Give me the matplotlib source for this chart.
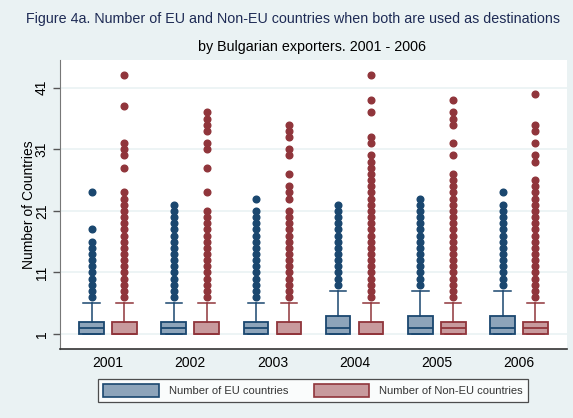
import matplotlib

matplotlib.use("Agg")
import matplotlib.pyplot as plt
from matplotlib.patches import Patch


plt.rcParams["font.family"] = ["Liberation Sans", "DejaVu Sans"]

YEARS = ["2001", "2002", "2003", "2004", "2005", "2006"]
Y_TICKS = [1, 11, 21, 31, 41]

# box summaries, one entry per year
EU_Q1 = [1, 1, 1, 1, 1, 1]
EU_MEDIAN = [2, 2, 2, 2, 2, 2]
EU_Q3 = [3, 3, 3, 4, 4, 4]
EU_WHISKER_LOW = [1, 1, 1, 1, 1, 1]
EU_WHISKER_HIGH = [6, 6, 6, 8, 8, 8]

NONEU_Q1 = [1, 1, 1, 1, 1, 1]
NONEU_MEDIAN = [1, 1, 1, 1, 2, 2]
NONEU_Q3 = [3, 3, 3, 3, 3, 3]
NONEU_WHISKER_LOW = [1, 1, 1, 1, 1, 1]
NONEU_WHISKER_HIGH = [6, 6, 6, 6, 6, 6]

# outside values (distinct country counts above the upper whisker)
EU_OUTLIERS = [
    [7, 8, 9, 10, 11, 12, 13, 14, 15, 16, 18, 24],
    [7, 8, 9, 10, 11, 12, 13, 14, 15, 16, 17, 18, 19, 20, 21, 22],
    [7, 8, 9, 10, 11, 12, 13, 14, 15, 16, 17, 18, 19, 20, 21, 23],
    [9, 10, 11, 12, 13, 14, 15, 16, 17, 18, 19, 20, 21, 22],
    [9, 10, 11, 12, 13, 14, 15, 16, 17, 18, 19, 20, 21, 22, 23],
    [9, 10, 11, 12, 13, 14, 15, 16, 17, 18, 19, 20, 21, 22, 24],
]
NONEU_OUTLIERS = [
    [7, 8, 9, 10, 11, 12, 13, 14, 15, 16, 17, 18, 19, 20, 21, 22, 23, 24,
     28, 30, 31, 32, 38, 43],
    [7, 8, 9, 10, 11, 12, 13, 14, 15, 16, 17, 18, 19, 20, 21,
     24, 28, 31, 32, 34, 35, 36, 37],
    [7, 8, 9, 10, 11, 12, 13, 14, 15, 16, 17, 18, 19, 20, 21,
     23, 24, 25, 27, 30, 31, 33, 34, 35],
    [7, 8, 9, 10, 11, 12, 13, 14, 15, 16, 17, 18, 19, 20, 21, 22, 23, 24,
     25, 26, 27, 28, 29, 30, 32, 33, 37, 39, 43],
    [7, 8, 9, 10, 11, 12, 13, 14, 15, 16, 17, 18, 19, 20, 21, 22, 23, 24,
     25, 26, 27, 30, 32, 35, 36, 37, 39],
    [7, 8, 9, 10, 11, 12, 13, 14, 15, 16, 17, 18, 19, 20, 21, 22, 23, 24,
     25, 26, 29, 30, 32, 34, 35, 40],
]

NAVY = "#1A476F"
NAVY_FILL = "#8DA4BA"
MAROON = "#90353B"
MAROON_FILL = "#C89A9D"
BACKGROUND = "#EAF2F3"


def box_stats(q1, med, q3, lo, hi, outliers):
    stats = []
    for i in range(len(q1)):
        stats.append(
            {
                "q1": q1[i],
                "med": med[i],
                "q3": q3[i],
                "whislo": lo[i],
                "whishi": hi[i],
                "fliers": outliers[i],
            }
        )
    return stats


def draw_boxes(ax, stats, positions, edge, fill):
    ax.bxp(
        stats,
        positions=positions,
        widths=0.30,
        patch_artist=True,
        showcaps=True,
        boxprops={"facecolor": fill, "edgecolor": edge, "linewidth": 1.3},
        medianprops={"color": edge, "linewidth": 1.3},
        whiskerprops={"color": edge, "linewidth": 1.1},
        capprops={"color": edge, "linewidth": 1.1},
        capwidths=0.2,
        flierprops={
            "marker": "o",
            "markerfacecolor": edge,
            "markeredgecolor": edge,
            "markersize": 4.8,
            "linestyle": "none",
        },
        zorder=3,
    )


fig = plt.figure(figsize=(5.73, 4.18), dpi=100, facecolor=BACKGROUND)
ax = fig.add_axes([60 / 573, 1 - 349 / 418, 507 / 573, 289 / 418])
ax.set_facecolor("white")

groups = list(range(len(YEARS)))
eu_pos = [g - 0.2 for g in groups]
noneu_pos = [g + 0.2 for g in groups]

draw_boxes(
    ax,
    box_stats(EU_Q1, EU_MEDIAN, EU_Q3, EU_WHISKER_LOW, EU_WHISKER_HIGH, EU_OUTLIERS),
    eu_pos, NAVY, NAVY_FILL,
)
draw_boxes(
    ax,
    box_stats(NONEU_Q1, NONEU_MEDIAN, NONEU_Q3, NONEU_WHISKER_LOW, NONEU_WHISKER_HIGH, NONEU_OUTLIERS),
    noneu_pos, MAROON, MAROON_FILL,
)

ax.set_xlim(-0.584, 5.584)
ax.set_ylim(-1.43, 45.5)
ax.set_xticks(groups)
ax.set_xticklabels(YEARS, fontsize=10)
ax.tick_params(axis="x", length=0, pad=5)

ax.set_yticks(Y_TICKS)
ax.set_yticklabels([str(t) for t in Y_TICKS], rotation=90, va="center", fontsize=10)
ax.tick_params(axis="y", length=5, width=1, color="#555555", pad=3)
ax.yaxis.grid(True, color=BACKGROUND, linewidth=1.2, zorder=0)
ax.set_axisbelow(True)
# Stata-style axis title sitting close against the tick labels
ax.set_ylabel("Number of Countries", fontsize=10, labelpad=-1)

for side in ["top", "right"]:
    ax.spines[side].set_visible(False)
ax.spines["left"].set_color("#777777")
ax.spines["bottom"].set_color("#333333")
ax.spines["bottom"].set_linewidth(1.2)

fig.text(293 / 573, 1 - 19 / 418,
         "Figure 4a. Number of EU and Non-EU countries when both are used as destinations",
         ha="center", va="center", fontsize=10.3, color="#1E2B55")
fig.text(312 / 573, 1 - 47 / 418, "by Bulgarian exporters. 2001 - 2006",
         ha="center", va="center", fontsize=10.3, color="black")

handles = [
    Patch(facecolor=NAVY_FILL, edgecolor=NAVY, linewidth=1.2, label="Number of EU countries"),
    Patch(facecolor=MAROON_FILL, edgecolor=MAROON, linewidth=1.2, label="Number of Non-EU countries"),
]
legend = fig.legend(
    handles=handles,
    loc="center",
    bbox_to_anchor=(313 / 573, 1 - 390.5 / 418),
    ncol=2,
    fontsize=8,
    frameon=True,
    fancybox=False,
    edgecolor="#222222",
    facecolor="white",
    handlelength=5.0,
    handleheight=1.35,
    handletextpad=0.9,
    columnspacing=2.3,
    borderpad=0.5,
    borderaxespad=0,
)
legend.get_frame().set_linewidth(0.9)
for text in legend.get_texts():
    text.set_color("#333333")

fig.savefig("out.png", dpi=100, facecolor=BACKGROUND)
